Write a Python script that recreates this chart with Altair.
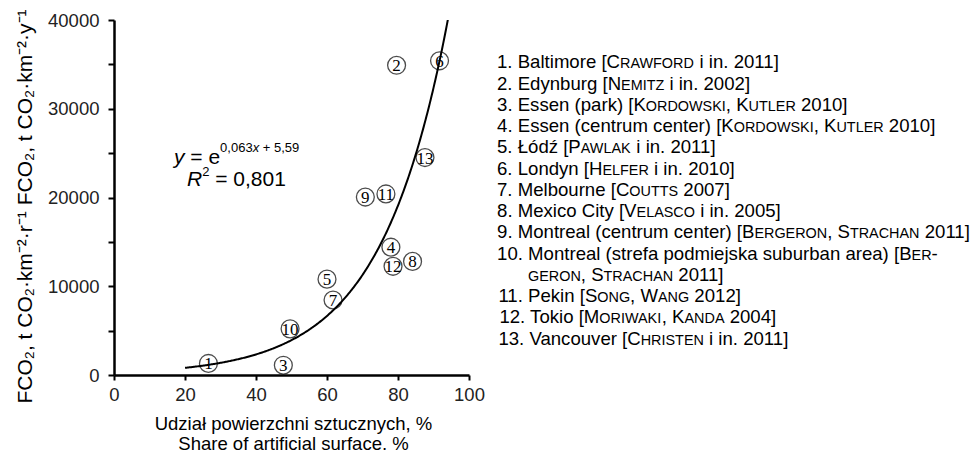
import numpy as np
import pandas as pd
import altair as alt

# Urban sites: number, share of artificial surface (%) and CO2 flux (t CO2 km^-2 y^-1)
site_ids = [1, 2, 3, 4, 5, 6, 7, 8, 9, 10, 11, 12, 13]
share = [26.6, 79.6, 47.7, 78.0, 60.0, 91.7, 61.7, 84.1, 70.8, 49.6, 76.6, 78.6, 87.6]
flux = [1300, 34900, 1100, 14400, 10800, 35400, 8450, 12800, 20050, 5200, 20400, 12250, 24500]

# Reference list shown beside the plot ({...} = small caps)
sources = [
    "1. Baltimore [C{rawford} i in. 2011]",
    "2. Edynburg [N{emitz} i in. 2002]",
    "3. Essen (park) [K{ordowski}, K{utler} 2010]",
    "4. Essen (centrum center) [K{ordowski}, K{utler} 2010]",
    "5. Łódź [P{awlak} i in. 2011]",
    "6. Londyn [H{elfer} i in. 2010]",
    "7. Melbourne [C{outts} 2007]",
    "8. Mexico City [V{elasco} i in. 2005]",
    "9. Montreal (centrum center) [B{ergeron}, S{trachan} 2011]",
    "10. Montreal (strefa podmiejska suburban area) [B{er}-",
    "      {geron}, S{trachan} 2011]",
    "11. Pekin [S{ong}, W{ang} 2012]",
    "12. Tokio [M{oriwaki}, K{anda} 2004]",
    "13. Vancouver [C{hristen} i in. 2011]",
]

x_ticks = list(range(0, 101, 10))
y_ticks = list(range(0, 40001, 5000))
X_DOMAIN = [0, 100]
Y_DOMAIN = [0, 40000]

# plot-area geometry (pixels)
LEFT, TOP, W, H = 114, 20, 355, 355
TOTAL_W, TOTAL_H = 977, 450
FONT = "Liberation Sans"


def to_x(px):
    return (px - LEFT) / W * (X_DOMAIN[1] - X_DOMAIN[0]) + X_DOMAIN[0]


def to_y(py):
    return (TOP + H - py) / H * (Y_DOMAIN[1] - Y_DOMAIN[0]) + Y_DOMAIN[0]


# Arial / Liberation Sans advance widths (per 1000 em)
_w = {" ": 278, "!": 278, "(": 333, ")": 333, ",": 278, "-": 333, ".": 278,
      "[": 278, "]": 278, "%": 889, "+": 584, "=": 584}
_w.update({d: 556 for d in "0123456789"})
_w.update(dict(zip("ABCDEFGHIJKLMNOPQRSTUVWXYZ",
                   [667, 667, 722, 722, 667, 611, 778, 722, 278, 500, 667, 556, 833,
                    722, 778, 667, 778, 722, 667, 611, 722, 667, 944, 667, 667, 611])))
_w.update(dict(zip("abcdefghijklmnopqrstuvwxyz",
                   [556, 556, 500, 556, 556, 278, 556, 556, 222, 222, 500, 222, 833,
                    556, 556, 556, 556, 333, 500, 278, 556, 500, 722, 500, 500, 500])))
_w.update({"Ł": 556, "ó": 556, "ź": 500, "ł": 222})


def text_width(s, size):
    return sum(_w.get(c, 556) for c in s) * size / 1000


def split_markup(line):
    parts, buf = [], ""
    for ch in line:
        if ch == "{":
            parts.append((buf, False))
            buf = ""
        elif ch == "}":
            parts.append((buf.upper(), True))
            buf = ""
        else:
            buf += ch
    parts.append((buf, False))
    return [p for p in parts if p[0]]


def place_runs(runs, x0, base):
    """runs: (text, size, italic, dy). The first run is anchored at its right
    end so that kerning inside it never opens a gap before the next run."""
    rows, cur = [], x0
    for k, (txt, size, italic, dy) in enumerate(runs):
        lead = len(txt) - len(txt.lstrip(" "))
        cur += text_width(txt[:lead], size)
        body = txt.lstrip(" ")
        end = cur + text_width(body, size)
        first = k == 0 and len(runs) > 1
        rows.append({"share": to_x(end if first else cur), "flux": to_y(base + dy),
                     "t": body, "fs": size, "it": italic,
                     "al": "right" if first else "left"})
        cur = end
    return rows


# reference list layout
LEG_X0, LEG_BASE, LEG_STEP = 497, 68.3, 21.25
FS_N, FS_SC = 18.6, 14.4
legend_rows = []
for i, line in enumerate(sources):
    runs = [(t, FS_SC if sc else FS_N, False, 0) for t, sc in split_markup(line)]
    legend_rows += place_runs(runs, LEG_X0, LEG_BASE + i * LEG_STEP)

# regression equation
eq_rows = place_runs([("y", 21, True, 0), (" = e", 21, False, 0),
                      ("0,063", 13, False, -12), ("x", 13, True, -12),
                      (" + 5,59", 13, False, -12)], 174, 163.5)
eq_rows += place_runs([("R", 21, True, 0), ("2", 13, False, -10),
                       (" = 0,801", 21, False, 0)], 187, 185.5)

ann = pd.DataFrame(legend_rows + eq_rows)

points = pd.DataFrame({"id": site_ids, "share": share, "flux": flux})

# exponential trend fitted to the sites (least squares on ln y)
b, a = np.polyfit(np.array(share), np.log(np.array(flux)), 1)
xs = np.arange(20, 95.01, 0.25)
trend = pd.DataFrame({"share": xs, "flux": np.exp(a + b * xs)})

xscale = alt.Scale(domain=X_DOMAIN, nice=False, zero=False)
yscale = alt.Scale(domain=Y_DOMAIN, nice=False)

x_axis = alt.Axis(
    values=x_ticks, labelExpr="datum.value % 20 == 0 ? datum.label : ''",
    grid=False, domainColor="black", domainWidth=2.5, tickColor="black",
    tickWidth=2, tickSize=5, labelFont=FONT, labelFontSize=18.5,
    labelColor="#222", labelPadding=5, labelFlush=False,
    title=["Udział powierzchni sztucznych, %", "Share of artificial surface, %"],
    titleFont=FONT, titleFontSize=18.5, titleFontWeight="normal",
    titleColor="black", titleLineHeight=20, titleBaseline="alphabetic",
    titleAlign="center", titleX=179, titleY=54,
)
y_axis = alt.Axis(
    values=y_ticks, format="d",
    labelExpr="datum.value % 10000 == 0 ? datum.label : ''",
    grid=False, domainColor="black", domainWidth=2.5, tickColor="black",
    tickWidth=2, tickSize=6, labelFont=FONT, labelFontSize=18.5,
    labelColor="#222", labelPadding=9, labelFlush=False,
    title="FCO₂, t CO₂·km⁻²·r⁻¹  FCO₂, t CO₂·km⁻²·y⁻¹",
    titleFont=FONT, titleFontSize=21, titleFontWeight="normal",
    titleColor="black", titleAngle=270, titleAlign="center",
    titleBaseline="middle", titleX=-89, titleY=186,
)

curve = alt.Chart(trend).mark_line(color="black", strokeWidth=2, clip=True).encode(
    x=alt.X("share:Q", scale=xscale, axis=x_axis),
    y=alt.Y("flux:Q", scale=yscale, axis=y_axis),
)

enc = dict(x=alt.X("share:Q", scale=xscale), y=alt.Y("flux:Q", scale=yscale))

circles = alt.Chart(points).mark_point(
    shape="circle", size=320, filled=False, color="black", strokeWidth=1.3
).encode(**enc)

numbers = alt.Chart(points).mark_text(
    font="Liberation Serif", fontSize=17, color="black", dy=1
).encode(text="id:N", **enc)


def text_layer(italic, align):
    cond = ("datum.it" if italic else "!datum.it") + f" && datum.al == '{align}'"
    return alt.Chart(ann).transform_filter(cond).mark_text(
        align=align, baseline="alphabetic", font=FONT, color="black",
        fontStyle="italic" if italic else "normal",
    ).encode(
        text="t:N",
        size=alt.Size("fs:Q", scale=None, legend=None),
        **enc,
    )


chart = alt.layer(
    curve, circles, numbers,
    text_layer(False, "left"), text_layer(False, "right"),
    text_layer(True, "left"), text_layer(True, "right"),
).properties(
    width=W, height=H,
    autosize=alt.AutoSizeParams(type="none"),
    padding={"left": LEFT, "top": TOP, "right": TOTAL_W - LEFT - W,
             "bottom": TOTAL_H - TOP - H},
    background="white",
).configure_view(stroke=None)

chart.save("out.html", embed_options={"renderer": "svg", "actions": False})
